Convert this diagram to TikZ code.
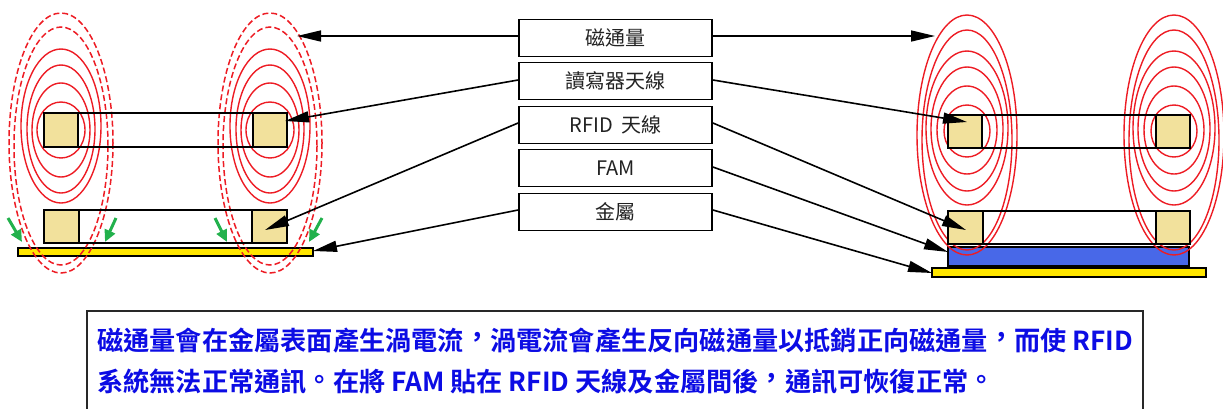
\documentclass[tikz,border=0pt]{standalone}
\usepackage{fontspec}
\newfontfamily\cjk{Noto Sans CJK TC}
\newfontfamily\cjkbold{Noto Sans CJK TC Bold}
\usetikzlibrary{arrows.meta,calc}

% full-width punctuation lifted towards the centre of its cell
\newcommand{\tcmark}[2]{\raisebox{#2}{#1}}
\newcommand{\tccomma}{\tcmark{，}{0.13em}}
\newcommand{\tcstop}{\tcmark{。}{0.06em}}

\definecolor{padfill}{RGB}{242,225,156}
\definecolor{fieldred}{RGB}{237,28,36}
\definecolor{metal}{RGB}{255,230,0}
\definecolor{famblue}{RGB}{72,104,232}
\definecolor{eddygreen}{RGB}{34,177,76}
\definecolor{notetext}{RGB}{12,12,228}
\definecolor{labeltext}{RGB}{34,34,34}

\tikzset{
  pad/.style={draw=black, fill=padfill, line width=2pt, minimum width=34pt, minimum height=34pt, inner sep=0pt},
  strip/.style={draw=black, line width=2pt, minimum width=243pt, minimum height=34pt, inner sep=0pt},
  metalbar/.style={draw=black, fill=metal, line width=1.6pt},
  fambar/.style={draw=black, fill=famblue, line width=2pt},
  fieldline/.style={draw=fieldred, line width=1.4pt},
  fielddash/.style={draw=fieldred, line width=1.5pt, dash pattern=on 6pt off 3pt},
  eddy/.style={draw=eddygreen, line width=3pt, -{Triangle[length=12pt,width=11pt]}},
  labelbox/.style={draw=black, line width=1.8pt, minimum width=193pt, minimum height=37pt, inner sep=0pt,
    font=\cjk\fontsize{20}{24}\selectfont, text=labeltext},
  pointer/.style={draw=black, line width=1.6pt, -{Triangle[length=24pt,width=11pt]}},
  note/.style={anchor=base west, inner sep=0pt, font=\cjkbold\fontsize{26.2}{30}\selectfont, text=notetext}
}

\begin{document}
\begin{tikzpicture}[x=1pt, y=-1pt]
\useasboundingbox (0,0) rectangle (1223,408);

% ---------- metal plates and ferrite sheet ----------
\draw[metalbar] (18,248) rectangle (313,256);
\draw[fambar] (948,247) rectangle (1189,266);
\draw[metalbar] (932,268) rectangle (1206,277);

% ---------- magnetic field lines ----------
% without ferrite: field loops reaching into the metal (dashed = cancelled part)
\foreach \cx in {61,270}{
  \draw[fielddash] (\cx,143) ellipse [x radius=52, y radius=130];
  \draw[fielddash] (\cx,146) ellipse [x radius=47, y radius=119];
  \draw[fieldline] (\cx,126) ellipse [x radius=40, y radius=77];
  \draw[fieldline] (\cx,129) ellipse [x radius=34, y radius=64];
  \draw[fieldline] (\cx,130) ellipse [x radius=29, y radius=47];
  \draw[fieldline] (\cx,130) ellipse [x radius=24, y radius=28];
}
% with ferrite: undisturbed field loops
\foreach \cx in {967,1174}{
  \draw[fieldline] (\cx,135) ellipse [x radius=50, y radius=120];
  \draw[fieldline] (\cx,140) ellipse [x radius=45, y radius=110];
  \draw[fieldline] (\cx,128) ellipse [x radius=41, y radius=77];
  \draw[fieldline] (\cx,129) ellipse [x radius=36, y radius=62];
  \draw[fieldline] (\cx,130) ellipse [x radius=30, y radius=44];
  \draw[fieldline] (\cx,131) ellipse [x radius=23, y radius=26];
}

% ---------- antennas, left assembly ----------
\node[strip] (LRd) at (165.5,130) {};
\node[pad] (LRdA) at (61,130) {};
\node[pad] (LRdB) at (270,130) {};
\node[strip, minimum height=33pt] (LTag) at (165.5,226.5) {};
\node[pad, minimum height=33pt, minimum width=35pt] (LTagA) at (61.5,226.5) {};
\node[pad, minimum height=33pt, minimum width=35pt] (LTagB) at (269.5,226.5) {};

% ---------- antennas, right assembly ----------
\node[strip, minimum width=242pt, minimum height=33pt] (RRd) at (1069,131.5) {};
\node[pad, minimum height=33pt] (RRdA) at (965,131.5) {};
\node[pad, minimum height=33pt] (RRdB) at (1173,131.5) {};
\node[strip, minimum width=242pt, minimum height=33pt] (RTag) at (1069,227.5) {};
\node[pad, minimum height=33pt, minimum width=35pt] (RTagA) at (965.5,227.5) {};
\node[pad, minimum height=33pt] (RTagB) at (1173,227.5) {};

% ---------- eddy currents ----------
\coordinate (e1s) at (8,218);   \coordinate (e1t) at (22,242);
\coordinate (e2s) at (116,218); \coordinate (e2t) at (105,242);
\coordinate (e3s) at (215,218); \coordinate (e3t) at (227,242);
\coordinate (e4s) at (322,218); \coordinate (e4t) at (309,242);
\draw[eddy] (e1s) -- (e1t);
\draw[eddy] (e2s) -- (e2t);
\draw[eddy] (e3s) -- (e3t);
\draw[eddy] (e4s) -- (e4t);

% ---------- legend boxes ----------
\node[labelbox] (flux)   at (615.5,38)  {磁通量};
\node[labelbox] (reader) at (615.5,81)  {讀寫器天線};
\node[labelbox] (rfid)   at (615.5,125) {RFID\hspace{8pt}天線};
\node[labelbox] (fam)    at (615.5,168) {FAM};
\node[labelbox] (metal)  at (615.5,212) {金屬};

% pointer targets
\coordinate (fluxL) at (297,36);
\coordinate (fluxR) at (935,36);
\coordinate (rdL) at (285,121);
\coordinate (rdR) at (967,122);
\coordinate (tagL) at (265,230);
\coordinate (tagR) at (966,230);
\coordinate (famR) at (948,252);
\coordinate (metL) at (313,251);
\coordinate (metR) at (932,273);

\draw[pointer] (flux.west |- fluxL) -- (fluxL);
\draw[pointer] (flux.east |- fluxR) -- (fluxR);
\draw[pointer] ($(reader.west)+(0,-1)$) -- (rdL);
\draw[pointer] ($(reader.east)+(0,-1)$) -- (rdR);
\draw[pointer] ($(rfid.west)+(0,-2)$) -- (tagL);
\draw[pointer] ($(rfid.east)+(0,-2)$) -- (tagR);
\draw[pointer] ($(fam.east)+(0,-1)$) -- (famR);
\draw[pointer] ($(metal.west)+(0,-2)$) -- (metL);
\draw[pointer] ($(metal.east)+(0,-2)$) -- (metR);

% ---------- explanation ----------
\draw[draw={rgb,255:red,40;green,40;blue,40}, line width=2pt] (87,430) -- (87,311) -- (1143,311) -- (1143,430);
\node[note] (line1) at (97,350) {磁通量會在金屬表面產生渦電流\tccomma 渦電流會產生反向磁通量以抵銷正向磁通量\tccomma 而使 RFID};
\node[note] (line2) at (97,391) {系統無法正常通訊\tcstop 在將 FAM 貼在 RFID 天線及金屬間後\tccomma 通訊可恢復正常\tcstop};
\end{tikzpicture}
\end{document}
